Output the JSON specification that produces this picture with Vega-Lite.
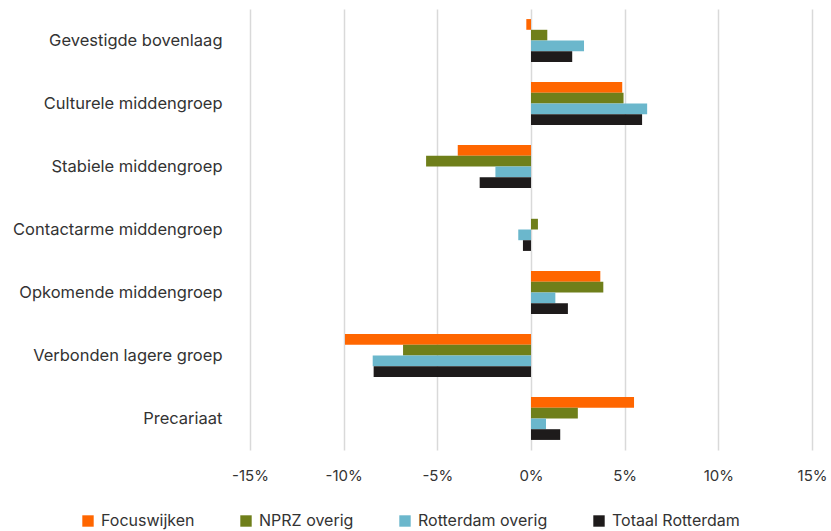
{
  "$schema": "https://vega.github.io/schema/vega-lite/v6.json",
  "autosize": {"type": "none"},
  "width": 562,
  "height": 441,
  "padding": {"left": 250, "top": 9, "right": 19, "bottom": 81},
  "background": "white",
  "config": {
    "view": {"stroke": null},
    "font": "Inter"
  },
  "data": {
    "values": [
      {"groep": "Gevestigde bovenlaag", "reeks": "Focuswijken", "waarde": -0.25},
      {"groep": "Gevestigde bovenlaag", "reeks": "NPRZ overig", "waarde": 0.87},
      {"groep": "Gevestigde bovenlaag", "reeks": "Rotterdam overig", "waarde": 2.83},
      {"groep": "Gevestigde bovenlaag", "reeks": "Totaal Rotterdam", "waarde": 2.2},
      {"groep": "Culturele middengroep", "reeks": "Focuswijken", "waarde": 4.87},
      {"groep": "Culturele middengroep", "reeks": "NPRZ overig", "waarde": 4.94},
      {"groep": "Culturele middengroep", "reeks": "Rotterdam overig", "waarde": 6.2},
      {"groep": "Culturele middengroep", "reeks": "Totaal Rotterdam", "waarde": 5.93},
      {"groep": "Stabiele middengroep", "reeks": "Focuswijken", "waarde": -3.91},
      {"groep": "Stabiele middengroep", "reeks": "NPRZ overig", "waarde": -5.6},
      {"groep": "Stabiele middengroep", "reeks": "Rotterdam overig", "waarde": -1.9},
      {"groep": "Stabiele middengroep", "reeks": "Totaal Rotterdam", "waarde": -2.74},
      {"groep": "Contactarme middengroep", "reeks": "Focuswijken", "waarde": 0},
      {"groep": "Contactarme middengroep", "reeks": "NPRZ overig", "waarde": 0.37},
      {"groep": "Contactarme middengroep", "reeks": "Rotterdam overig", "waarde": -0.68},
      {"groep": "Contactarme middengroep", "reeks": "Totaal Rotterdam", "waarde": -0.43},
      {"groep": "Opkomende middengroep", "reeks": "Focuswijken", "waarde": 3.7},
      {"groep": "Opkomende middengroep", "reeks": "NPRZ overig", "waarde": 3.86},
      {"groep": "Opkomende middengroep", "reeks": "Rotterdam overig", "waarde": 1.3},
      {"groep": "Opkomende middengroep", "reeks": "Totaal Rotterdam", "waarde": 1.97},
      {"groep": "Verbonden lagere groep", "reeks": "Focuswijken", "waarde": -9.93},
      {"groep": "Verbonden lagere groep", "reeks": "NPRZ overig", "waarde": -6.83},
      {"groep": "Verbonden lagere groep", "reeks": "Rotterdam overig", "waarde": -8.45},
      {"groep": "Verbonden lagere groep", "reeks": "Totaal Rotterdam", "waarde": -8.4},
      {"groep": "Precariaat", "reeks": "Focuswijken", "waarde": 5.5},
      {"groep": "Precariaat", "reeks": "NPRZ overig", "waarde": 2.5},
      {"groep": "Precariaat", "reeks": "Rotterdam overig", "waarde": 0.8},
      {"groep": "Precariaat", "reeks": "Totaal Rotterdam", "waarde": 1.56}
    ]
  },
  "mark": {"type": "bar"},
  "encoding": {
    "y": {
      "field": "groep",
      "type": "nominal",
      "sort": ["Gevestigde bovenlaag", "Culturele middengroep", "Stabiele middengroep", "Contactarme middengroep", "Opkomende middengroep", "Verbonden lagere groep", "Precariaat"],
      "scale": {"paddingInner": 0.32, "paddingOuter": 0.16},
      "axis": {
        "title": null,
        "domain": false,
        "ticks": false,
        "labelPadding": 28,
        "labelFontSize": 16.5,
        "labelColor": "#333333",
        "labelFont": "Inter",
        "labelLimit": 300
      }
    },
    "yOffset": {
      "field": "reeks",
      "type": "nominal",
      "sort": ["Focuswijken", "NPRZ overig", "Rotterdam overig", "Totaal Rotterdam"],
      "scale": {"paddingInner": 0, "paddingOuter": 0}
    },
    "x": {
      "field": "waarde",
      "type": "quantitative",
      "scale": {"domain": [-15, 15], "nice": false, "zero": false},
      "axis": {
        "title": null,
        "values": [-15, -10, -5, 0, 5, 10, 15],
        "labelExpr": "datum.value + '%'",
        "labelFlush": false,
        "domain": false,
        "ticks": false,
        "grid": true,
        "gridColor": "#d9d9d9",
        "gridWidth": 1.5,
        "labelPadding": 18,
        "labelFontSize": 15,
        "labelColor": "#333333",
        "labelFont": "Inter"
      }
    },
    "color": {
      "field": "reeks",
      "type": "nominal",
      "scale": {
        "domain": ["Focuswijken", "NPRZ overig", "Rotterdam overig", "Totaal Rotterdam"],
        "range": ["#FF6600", "#6F7F1A", "#6BB7CC", "#1E1B1B"]
      },
      "legend": {
        "title": null,
        "orient": "none",
        "direction": "horizontal",
        "legendX": -170,
        "legendY": 504,
        "symbolType": "square",
        "symbolSize": 130,
        "symbolStrokeWidth": 0,
        "labelFontSize": 16,
        "labelColor": "#333333",
        "labelFont": "Inter",
        "labelOffset": 5,
        "columnPadding": 43
      }
    }
  }
}
